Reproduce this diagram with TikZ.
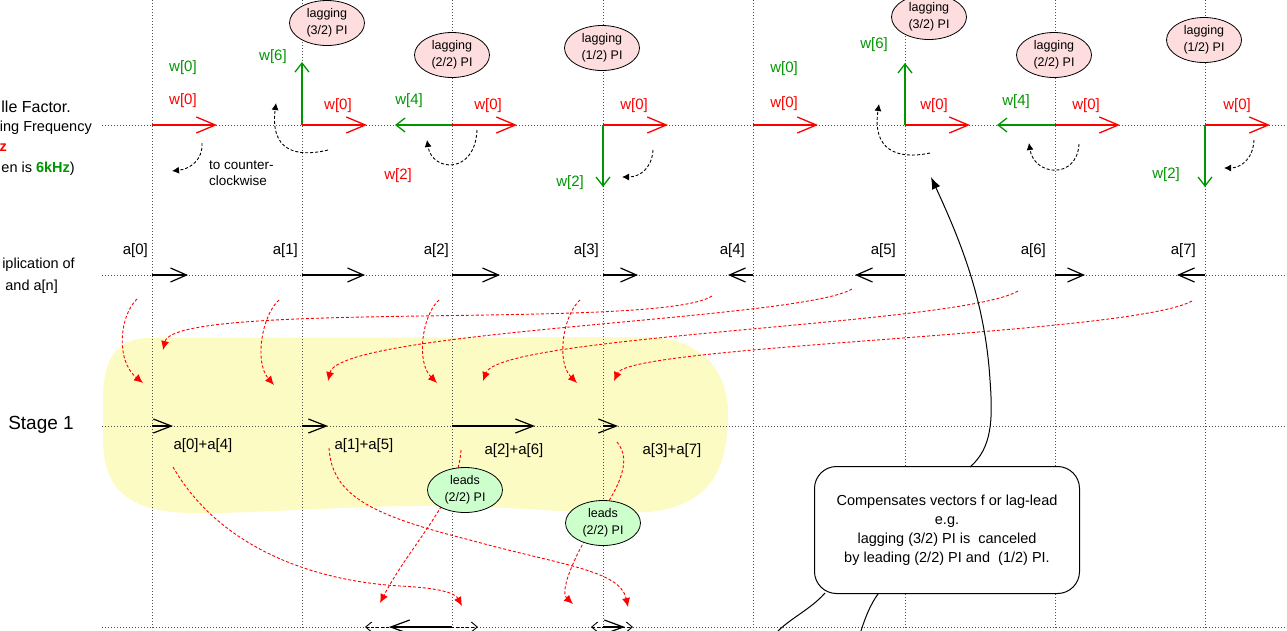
\documentclass[tikz,border=0pt]{standalone}
\usepackage{fontspec}
\setmainfont{Liberation Sans}
\usetikzlibrary{arrows.meta,shapes.geometric}
\definecolor{myred}{RGB}{255,0,0}
\definecolor{mygreen}{RGB}{0,150,0}
\definecolor{blobyellow}{RGB}{253,251,196}
\definecolor{pinkfill}{RGB}{253,221,221}
\definecolor{greenfill}{RGB}{204,255,204}
\definecolor{gridgray}{RGB}{80,80,80}
\newcommand{\fsz}[2]{\fontsize{#1}{#2}\selectfont}
\tikzset{
  gridline/.style={draw=gridgray, line width=0.9pt, dash pattern=on 1pt off 2pt},
  redvec/.style={draw=myred, line width=1.8pt, -{Straight Barb[length=19pt,width=16pt,line width=1.3pt]}},
  greenvec/.style={draw=mygreen, line width=1.8pt, -{Straight Barb[length=9pt,width=14pt,line width=1.3pt]}},
  avec/.style={draw=black, line width=1.8pt, -{Straight Barb[length=16pt,width=14pt,line width=1.2pt]}},
  svec/.style={draw=black, line width=1.8pt, -{Straight Barb[length=18pt,width=14pt,line width=1.2pt]}},
  bvec/.style={draw=black, line width=1.8pt, -{Straight Barb[length=19pt,width=14pt,line width=1.2pt]}},
  bdash/.style={draw=black, line width=0.9pt, dash pattern=on 3pt off 2pt, {Straight Barb[length=6pt,width=10pt]}-{Straight Barb[length=6pt,width=10pt]}},
  rotarrow/.style={draw=black, line width=0.9pt, dash pattern=on 3pt off 2pt, -{Latex[length=7pt,width=7pt]}},
  rflow/.style={draw=myred, line width=0.9pt, dash pattern=on 3pt off 2pt, -{Latex[length=9pt,width=8pt]}},
  lbl/.style={inner sep=0pt, font=\fsz{15}{18}},
  redlbl/.style={lbl, text=myred},
  greenlbl/.style={lbl, text=mygreen},
  lagbub/.style={ellipse, draw=black, line width=0.8pt, fill=pinkfill, minimum width=75pt, minimum height=45pt, inner sep=0pt, align=center, font=\fsz{12.5}{17}},
  leadbub/.style={lagbub, fill=greenfill},
  callout/.style={draw=black, line width=1pt, fill=white, rounded corners=22pt, minimum width=265pt, minimum height=127pt, align=center, font=\fsz{14.5}{19}, inner sep=0pt},
  sidetext/.style={inner sep=0pt, font=\fsz{14.5}{17}},
  conn/.style={draw=black, line width=1pt},
}
\begin{document}
\begin{tikzpicture}[x=1pt,y=-1pt]
\useasboundingbox (0,0) rectangle (1287,630);
\clip (0,0) rectangle (1287,630);

% yellow stage-1 blob
\fill[blobyellow] (150,338) -- (650,337) .. controls (700,339) and (727,370) .. (728,410)
  .. controls (729,470) and (710,505) .. (650,512) .. controls (580,515) and (520,507) .. (450,506)
  .. controls (350,505) and (260,514) .. (190,513) .. controls (130,512) and (103,490) .. (103,440)
  -- (103,400) .. controls (103,360) and (115,338) .. (150,338) -- cycle;

% grid
\foreach \x in {152,302,452,603,753,905,1055,1205}{
  \draw[gridline] (\x,0) -- (\x,630);
}
\foreach \y in {125,275,426,627}{
  \draw[gridline] (102,\y) -- (1287,\y);
}

% coordinates
\foreach \k/\x in {0/152,1/302,2/452,3/603,4/753,5/905,6/1055,7/1205}{
  \coordinate (w\k) at (\x,125);
  \coordinate (wr\k) at (\x+65,125);
  \coordinate (a\k) at (\x,275);
  \coordinate (s\k) at (\x,426);
}

% red flows a-row -> stage 1
\coordinate (f0a) at (137,299); \coordinate (f0b) at (143,383);
\coordinate (f1a) at (279,300); \coordinate (f1b) at (274,385);
\coordinate (f2a) at (439,300); \coordinate (f2b) at (437,383);
\coordinate (f3a) at (580,300); \coordinate (f3b) at (577,383);
\draw[rflow] (f0a) .. controls (120,315) and (115,360) .. (f0b);
\draw[rflow] (f1a) .. controls (262,315) and (254,362) .. (f1b);
\draw[rflow] (f2a) .. controls (422,315) and (416,362) .. (f2b);
\draw[rflow] (f3a) .. controls (563,315) and (556,362) .. (f3b);
\coordinate (f4a) at (712,296); \coordinate (f4b) at (163,350);
\coordinate (f5a) at (852,289); \coordinate (f5b) at (328,381);
\coordinate (f6a) at (1018,291); \coordinate (f6b) at (483,381);
\coordinate (f7a) at (1192,301); \coordinate (f7b) at (614,381);
\draw[rflow] (f4a) .. controls (660,330) and (175,300) .. (f4b);
\draw[rflow] (f5a) .. controls (800,320) and (340,330) .. (f5b);
\draw[rflow] (f6a) .. controls (960,325) and (500,335) .. (f6b);
\draw[rflow] (f7a) .. controls (1130,335) and (630,345) .. (f7b);

% red flows stage 1 -> bottom
\coordinate (g0a) at (173,467); \coordinate (g0m) at (400,586); \coordinate (g0b) at (462,606);
\draw[rflow] (g0a) .. controls (215,540) and (300,580) .. (g0m) .. controls (440,588) and (455,593) .. (g0b);
\coordinate (g1a) at (329,448); \coordinate (g1m) at (470,540); \coordinate (g1b) at (628,607);
\draw[rflow] (g1a) .. controls (332,495) and (370,515) .. (g1m) .. controls (560,565) and (620,570) .. (g1b);
\coordinate (g2a) at (461,450); \coordinate (g2b) at (380,603);
\draw[rflow] (g2a) .. controls (458,500) and (410,545) .. (g2b);
\coordinate (g3a) at (617,442); \coordinate (g3m) at (600,515); \coordinate (g3b) at (573,604);
\draw[rflow] (g3a) .. controls (632,460) and (620,485) .. (g3m) .. controls (580,545) and (558,590) .. (g3b);

% top-row vectors
\coordinate (gt1) at (302,62);  \coordinate (gt2) at (395,125); \coordinate (gt3) at (603,187);
\coordinate (gt5) at (905,63);  \coordinate (gt6) at (997,125); \coordinate (gt7) at (1205,187);
\foreach \k in {1,2,3,5,6,7}{ \draw[greenvec] (w\k) -- (gt\k); }
\foreach \k in {0,...,7}{ \draw[redvec] (w\k) -- (wr\k); }

% top-row labels
\node[greenlbl] (lg0) at (183,68) {w[0]};
\node[redlbl] (lr0) at (183,101) {w[0]};
\node[greenlbl] (lg1) at (273,57) {w[6]};
\node[redlbl] (lr1) at (338,106) {w[0]};
\node[greenlbl] (lg2) at (409,101) {w[4]};
\node[redlbl] (lr2) at (488,106) {w[0]};
\node[redlbl] (lr2b) at (398,176) {w[2]};
\node[redlbl] (lr3) at (634,106) {w[0]};
\node[greenlbl] (lg3) at (570,183) {w[2]};
\node[greenlbl] (lg4) at (784,69) {w[0]};
\node[redlbl] (lr4) at (784,104) {w[0]};
\node[greenlbl] (lg5) at (874,45) {w[6]};
\node[redlbl] (lr5) at (934,106) {w[0]};
\node[greenlbl] (lg6) at (1016,102) {w[4]};
\node[redlbl] (lr6) at (1086,106) {w[0]};
\node[greenlbl] (lg7) at (1166,175) {w[2]};
\node[redlbl] (lr7) at (1237,106) {w[0]};
\node[inner sep=0pt, anchor=north west, align=left, font=\fsz{13.5}{16}] (ccw) at (209,161) {to counter-\\clockwise};

% rotation hints
\coordinate (rs0) at (202,143);  \coordinate (re0) at (172,171);
\coordinate (rs1) at (328,150);  \coordinate (re1) at (276,103);
\coordinate (rs2) at (477,130);  \coordinate (re2) at (427,140);
\coordinate (rs3) at (653,150);  \coordinate (re3) at (622,177);
\coordinate (rs5) at (930,153);  \coordinate (re5) at (879,104);
\coordinate (rs6) at (1079,144); \coordinate (re6) at (1029,143);
\coordinate (rs7) at (1254,140); \coordinate (re7) at (1224,168);
\draw[rotarrow] (rs0) .. controls (203,160) and (190,169) .. (re0);
\draw[rotarrow] (rs1) .. controls (295,158) and (270,150) .. (re1);
\draw[rotarrow] (rs2) .. controls (475,175) and (432,172) .. (re2);
\draw[rotarrow] (rs3) .. controls (652,168) and (640,177) .. (re3);
\draw[rotarrow] (rs5) .. controls (897,160) and (872,150) .. (re5);
\draw[rotarrow] (rs6) .. controls (1077,180) and (1034,176) .. (re6);
\draw[rotarrow] (rs7) .. controls (1253,160) and (1240,168) .. (re7);

% lagging bubbles
\node[lagbub] (lag1) at (327,23) {lagging\\(3/2) PI};
\node[lagbub] (lag2) at (452,55) {lagging\\(2/2) PI};
\node[lagbub] (lag3) at (602,48) {lagging\\(1/2) PI};
\node[lagbub] (lag5) at (929,17) {lagging\\(3/2) PI};
\node[lagbub] (lag6) at (1054,55) {lagging\\(2/2) PI};
\node[lagbub] (lag7) at (1204,40) {lagging\\(1/2) PI};

% a-row
\coordinate (ae0) at (188,275);  \coordinate (ae1) at (365,275);
\coordinate (ae2) at (500,275);  \coordinate (ae3) at (638,275);
\coordinate (ae4) at (728,275);  \coordinate (ae5) at (855,275);
\coordinate (ae6) at (1085,275); \coordinate (ae7) at (1177,275);
\foreach \k in {0,...,7}{ \draw[avec] (a\k) -- (ae\k); }
\foreach \k/\x in {0/148,1/298,2/449,3/599,4/745,5/896,6/1046,7/1196}{
  \node[lbl, anchor=east] (la\k) at (\x,251) {a[\k]};
}

% stage 1 row
\coordinate (se0) at (173,426); \coordinate (se1) at (328,426);
\coordinate (se2) at (535,426); \coordinate (se3) at (618,426);
\foreach \k in {0,...,3}{ \draw[svec] (s\k) -- (se\k); }
\node[lbl] (sl0) at (203,446) {a[0]+a[4]};
\node[lbl] (sl1) at (364,446) {a[1]+a[5]};
\node[lbl] (sl2) at (514,451) {a[2]+a[6]};
\node[lbl] (sl3) at (672,451) {a[3]+a[7]};
\node[leadbub] (ld1) at (465,490) {leads\\(2/2) PI};
\node[leadbub] (ld2) at (603,523) {leads\\(2/2) PI};

% bottom row
\coordinate (b0l) at (365,627); \coordinate (b0r) at (478,627);
\coordinate (b0o) at (452,627); \coordinate (b0t) at (389,627);
\coordinate (b1l) at (591,627); \coordinate (b1r) at (633,627);
\coordinate (b1o) at (603,627); \coordinate (b1t) at (625,627);
\draw[bdash] (b0l) -- (b0r);
\draw[bvec] (b0o) -- (b0t);
\draw[bdash] (b1l) -- (b1r);
\draw[bvec] (b1o) -- (b1t);

% left texts
\node[sidetext, font=\fsz{16}{19}, anchor=base east] (lt1) at (71,112) {lle Factor.};
\node[sidetext, anchor=base east] (lt2) at (92,131) {ing Frequency};
\node[sidetext, anchor=base east, text=myred, font=\fsz{14.5}{17}\bfseries] (lt3) at (7,151) {z};
\node[sidetext, anchor=base east] (lt4) at (75,172) {en is \textbf{\textcolor{mygreen}{6kHz}})};
\node[sidetext, anchor=base east] (lt5) at (75,268) {iplication of};
\node[sidetext, anchor=base east] (lt6) at (58,290) {and a[n]};
\node[inner sep=0pt, font=\fsz{19}{22}] (st) at (41,425) {Stage 1};

% callout
\node[callout] (cb) at (947,530) {Compensates vectors f or lag-lead\\e.g.\\lagging (3/2) PI is\ \ canceled\\by leading (2/2) PI and\ \ (1/2) PI.};
\coordinate (cbt) at (970,467);
\coordinate (cbm) at (990,380);
\coordinate (cbtip) at (931,177);
\draw[conn, -{Latex[length=12pt,width=9pt]}] (cbt) .. controls (992,448) and (993,420) .. (cbm) .. controls (985,300) and (960,240) .. (cbtip);
\coordinate (cbl1) at (825,593); \coordinate (cbx1) at (775,634);
\coordinate (cbl2) at (878,594); \coordinate (cbx2) at (860,634);
\draw[conn] (cbl1) .. controls (810,610) and (790,618) .. (cbx1);
\draw[conn] (cbl2) .. controls (870,605) and (865,618) .. (cbx2);
\end{tikzpicture}
\end{document}
